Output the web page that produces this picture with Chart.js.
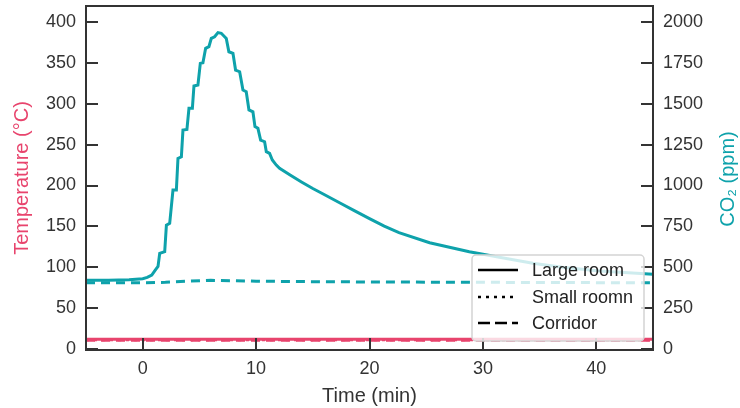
<!DOCTYPE html>
<html><head><meta charset="utf-8">
<script src="https://cdn.jsdelivr.net/npm/chart.js@4.4.1/dist/chart.umd.min.js"></script>
<style>html,body{margin:0;padding:0;background:#fff}#wrap{width:740px;height:408px}</style>
</head><body><div id="wrap"><canvas id="c" width="740" height="408"></canvas></div>
<script>
// ---- data ----
const largeTime = [-5, -3, -1.2, 0, 0.4, 0.8, 1.06, 1.35, 1.5, 1.94, 2.09, 2.38, 2.67, 2.97, 3.11, 3.41, 3.55, 3.9, 4.08, 4.38, 4.52, 4.87, 5.08, 5.31, 5.55, 5.84, 6.05, 6.34, 6.64, 6.93, 7.37, 7.6, 7.96, 8.19, 8.55, 8.84, 9.13, 9.37, 9.72, 9.9, 10.16, 10.4, 10.75, 10.9, 11.19, 11.43, 11.78, 12.07, 13, 14, 15, 16, 17.4, 18.7, 20, 21.3, 22.6, 25.3, 28.8, 32.3, 34.4, 37, 40.3, 45];
const largeCO2  = [420, 420, 424, 430, 438, 452, 478, 505, 585, 595, 758, 769, 972, 972, 1166, 1176, 1339, 1343, 1472, 1472, 1609, 1615, 1747, 1751, 1839, 1849, 1900, 1910, 1935, 1931, 1900, 1818, 1809, 1706, 1696, 1584, 1574, 1462, 1451, 1360, 1350, 1278, 1268, 1207, 1197, 1156, 1125, 1105, 1064, 1022, 982, 945, 893, 845, 798, 752, 712, 650, 595, 550, 525, 500, 477, 457];
const corridorTime = [-5, 0, 2, 4, 6, 8, 10, 15, 20, 30, 40, 45];
const corridorCO2  = [405, 405, 408, 415, 420, 418, 415, 412, 410, 408, 406, 405];
const tempTime = [-5, 0, 10, 20, 30, 40, 45];
const largeTemp    = [12, 12, 12, 12, 12, 12, 12];
const smallTemp    = [11, 11, 11, 11, 11, 11, 11];
const corridorTemp = [10.3, 10.3, 10.3, 10.3, 10.3, 10.3, 10.3];
const timeTicks = [0, 10, 20, 30, 40];
const tempTicks = [0, 50, 100, 150, 200, 250, 300, 350, 400];
const co2Ticks  = [0, 250, 500, 750, 1000, 1250, 1500, 1750, 2000];
const legendLabels = ['Large room', 'Small roomn', 'Corridor'];

// ---- styles ----
const TEAL = '#0ea2ab';
const PINK = '#e8446d';
const AXIS = '#333333';
const FONT = "'Liberation Sans', Arial, Helvetica, sans-serif";

const pts = (xs, ys) => xs.map((x, i) => ({x, y: ys[i]}));
const noPad = s => { s.paddingTop = 0; s.paddingBottom = 0; s.paddingLeft = 0; s.paddingRight = 0; };

const customPlugin = {
  id: 'custom',
  afterDatasetsDraw(chart) {
    const {ctx, chartArea: a, scales} = chart;
    ctx.save();
    // frame
    ctx.strokeStyle = AXIS; ctx.lineWidth = 2;
    ctx.strokeRect(a.left, a.top, a.right - a.left, a.bottom - a.top);
    // inward ticks
    ctx.beginPath();
    scales.x.ticks.forEach(t => { const p = Math.round(scales.x.getPixelForValue(t.value)); ctx.moveTo(p, a.bottom); ctx.lineTo(p, a.bottom - 12); });
    scales.y.ticks.forEach(t => { const p = Math.round(scales.y.getPixelForValue(t.value)); ctx.moveTo(a.left, p); ctx.lineTo(a.left + 12, p); });
    scales.y2.ticks.forEach(t => { const p = Math.round(scales.y2.getPixelForValue(t.value)); ctx.moveTo(a.right, p); ctx.lineTo(a.right - 12, p); });
    ctx.stroke();

    // legend
    const bx = 472, by = 255, bw = 172, bh = 86, r = 4;
    ctx.beginPath();
    ctx.moveTo(bx + r, by); ctx.lineTo(bx + bw - r, by); ctx.arcTo(bx + bw, by, bx + bw, by + r, r);
    ctx.lineTo(bx + bw, by + bh - r); ctx.arcTo(bx + bw, by + bh, bx + bw - r, by + bh, r);
    ctx.lineTo(bx + r, by + bh); ctx.arcTo(bx, by + bh, bx, by + bh - r, r);
    ctx.lineTo(bx, by + r); ctx.arcTo(bx, by, bx + r, by, r); ctx.closePath();
    ctx.fillStyle = 'rgba(255,255,255,0.8)'; ctx.fill();
    ctx.strokeStyle = '#d4d4d4'; ctx.lineWidth = 1.5; ctx.stroke();
    const rows = [270, 297, 323];
    const dashes = [[], [3, 5], [12, 5]];
    ctx.font = '18px ' + FONT; ctx.textAlign = 'left'; ctx.textBaseline = 'middle';
    legendLabels.forEach((lab, i) => {
      ctx.beginPath(); ctx.setLineDash(dashes[i]); ctx.strokeStyle = '#000'; ctx.lineWidth = 2.5;
      ctx.moveTo(478, rows[i]); ctx.lineTo(518, rows[i]); ctx.stroke();
      ctx.setLineDash([]);
      ctx.fillStyle = '#222'; ctx.fillText(lab, 532, rows[i] + 1);
    });
    // right axis title (reads bottom to top)
    ctx.translate(728, (a.top + a.bottom) / 2 + 1);
    ctx.rotate(-Math.PI / 2);
    ctx.font = '20px ' + FONT; ctx.fillStyle = TEAL; ctx.textAlign = 'center'; ctx.textBaseline = 'middle';
    ctx.fillText('CO\u2082 (ppm)', 0, 0);
    ctx.restore();
  }
};

Chart.defaults.font.family = FONT;
Chart.defaults.color = AXIS;

new Chart(document.getElementById('c'), {
  type: 'line',
  data: {
    datasets: [
      {label: 'Large room CO2', data: pts(largeTime, largeCO2), yAxisID: 'y2', borderColor: TEAL, borderWidth: 3, pointRadius: 0, tension: 0},
      {label: 'Corridor CO2', data: pts(corridorTime, corridorCO2), yAxisID: 'y2', borderColor: TEAL, borderWidth: 3, borderDash: [9, 6], pointRadius: 0, tension: 0},
      {label: 'Corridor temperature', data: pts(tempTime, corridorTemp), yAxisID: 'y', borderColor: PINK, borderWidth: 2.5, borderDash: [9, 6], pointRadius: 0},
      {label: 'Small room temperature', data: pts(tempTime, smallTemp), yAxisID: 'y', borderColor: PINK, borderWidth: 2.5, borderDash: [3, 5], pointRadius: 0},
      {label: 'Large room temperature', data: pts(tempTime, largeTemp), yAxisID: 'y', borderColor: PINK, borderWidth: 3, pointRadius: 0}
    ]
  },
  options: {
    responsive: false, animation: false, devicePixelRatio: 1,
    layout: {padding: {top: 6, left: 0, right: 0, bottom: 0}},
    plugins: {legend: {display: false}, tooltip: {enabled: false}},
    scales: {
      x: {
        type: 'linear', min: -5, max: 45,
        afterBuildTicks: s => { s.ticks = timeTicks.map(v => ({value: v})); },
        afterFit: s => { s.height = 58; noPad(s); },
        grid: {display: false, drawTicks: false}, border: {display: false},
        ticks: {font: {size: 18}, color: AXIS, padding: 8, maxRotation: 0, callback: v => String(v)},
        title: {display: true, text: 'Time (min)', font: {size: 20}, color: AXIS, padding: {top: 1, bottom: 0}}
      },
      y: {
        type: 'linear', position: 'left', min: -1.2, max: 419.6,
        afterBuildTicks: s => { s.ticks = tempTicks.map(v => ({value: v})); },
        afterFit: s => { s.width = 86; noPad(s); },
        grid: {display: false, drawTicks: false}, border: {display: false},
        ticks: {font: {size: 18}, color: AXIS, padding: 10, callback: v => String(v)},
        title: {display: true, text: 'Temperature (°C)', font: {size: 20}, color: PINK, padding: {top: 10, bottom: 0}}
      },
      y2: {
        type: 'linear', position: 'right', min: -6, max: 2098,
        afterBuildTicks: s => { s.ticks = co2Ticks.map(v => ({value: v})); },
        afterFit: s => { s.width = 87; noPad(s); },
        grid: {display: false, drawTicks: false}, border: {display: false},
        ticks: {font: {size: 18}, color: AXIS, padding: 10, callback: v => String(v)},
        title: {display: false}
      }
    }
  },
  plugins: [customPlugin]
});
</script>
</body></html>
